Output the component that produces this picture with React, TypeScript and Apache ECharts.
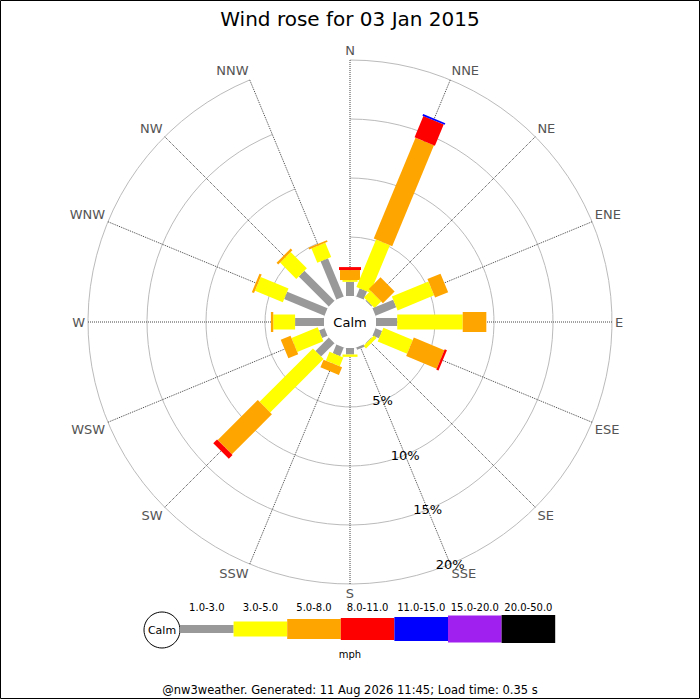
import * as echarts from "echarts";
import { useEffect, useRef } from "react";

// directions, clockwise from north
const directions = [
  "N", "NNE", "NE", "ENE", "E", "ESE", "SE", "SSE",
  "S", "SSW", "SW", "WSW", "W", "WNW", "NW", "NNW",
];

// percentage of time in each speed band (mph), per direction
const speed1to3 = [1.2, 0.75, 0.1, 1.9, 1.8, 0.6, 0.05, 0.2, 0.55, 0.8, 1.6, 0.5, 2.45, 3.7, 3.6, 3.5];
const speed3to5 = [0.15, 4.35, 0.8, 3.35, 5.55, 2.7, 0.3, 0, 0.2, 0.8, 6.4, 2.4, 1.85, 2.55, 1.95, 1.3];
const speed5to8 = [0.85, 9.25, 1.4, 1.2, 2.0, 2.8, 0, 0, 0, 0.7, 4.8, 0.9, 0.2, 0.2, 0.2, 0.15];
const speed8to11 = [0.25, 1.95, 0, 0, 0, 0.2, 0, 0, 0, 0, 0.45, 0, 0, 0, 0, 0];
const speed11to15 = [0, 0.15, 0, 0, 0, 0, 0, 0, 0, 0, 0, 0, 0, 0, 0, 0];

const bandLabels = ["1.0-3.0", "3.0-5.0", "5.0-8.0", "8.0-11.0", "11.0-15.0", "15.0-20.0", "20.0-50.0"];
const bandColors = ["#999999", "#ffff00", "#ffa500", "#ff0000", "#0000ff", "#a020f0", "#000000"];
const bandWidths = [8, 15, 20, 22, 24, 27, 28];

const radiusTicks = [0, 5, 10, 15, 20];

const CX = 350;
const CY = 322;
const R0 = 26;
const R1 = 262;
const FONT = "DejaVu Sans";

const bands = [speed1to3, speed3to5, speed5to8, speed8to11, speed11to15];

function buildSegments() {
  const out: number[][] = [];
  directions.forEach((_, i) => {
    let acc = 0;
    bands.forEach((band, b) => {
      const v = band[i];
      if (v > 0) out.push([i, acc, acc + v, b]);
      acc += v;
    });
  });
  return out;
}

function legend() {
  const x0 = 180;
  const w = 53.6;
  const cy = 629;
  const items: any[] = [
    {
      type: "circle",
      shape: { cx: 162, cy: 630, r: 18 },
      style: { fill: "#fff", stroke: "#000", lineWidth: 1 },
    },
    {
      type: "text",
      x: 162,
      y: 630,
      style: { text: "Calm", font: `11px ${FONT}`, fill: "#000", align: "center", verticalAlign: "middle" },
    },
  ];
  bandLabels.forEach((lab, i) => {
    const h = bandWidths[i];
    items.push({
      type: "rect",
      shape: { x: x0 + i * w, y: cy - h / 2, width: w, height: h },
      style: { fill: bandColors[i] },
    });
    items.push({
      type: "text",
      x: x0 + i * w + w / 2,
      y: 607,
      style: { text: lab, font: `10px ${FONT}`, fill: "#000", align: "center", verticalAlign: "middle" },
    });
  });
  items.push({
    type: "text",
    x: 350,
    y: 654,
    style: { text: "mph", font: `10px ${FONT}`, fill: "#000", align: "center", verticalAlign: "middle" },
  });
  return items;
}

export default function App() {
  const ref = useRef<HTMLDivElement>(null);
  useEffect(() => {
    document.body.style.margin = "0";
    if (!ref.current) return;
    const chart = echarts.init(ref.current, undefined, { renderer: "svg" });
    chart.setOption({
      animation: false,
      backgroundColor: "#fff",
      title: {
        text: "Wind rose for 03 Jan 2015",
        left: "center",
        top: 4,
        textStyle: { fontFamily: FONT, fontSize: 20, fontWeight: "normal", color: "#000" },
      },
      polar: [
        { center: [CX, CY], radius: [R0, R1] },
        { center: [CX, CY], radius: [R0, R1] },
      ],
      angleAxis: [
        {
          polarIndex: 0,
          type: "category",
          data: directions,
          boundaryGap: false,
          startAngle: 90,
          clockwise: true,
          axisLine: { show: false },
          axisTick: { show: false },
          axisLabel: { color: "#555", fontSize: 13, fontFamily: FONT, margin: 3 },
          splitLine: { show: true, lineStyle: { color: "#444", type: "dotted", width: 1 } },
          z: 1,
        },
        {
          polarIndex: 1,
          type: "value",
          min: 0,
          max: 360,
          startAngle: 90 - 157.5,
          show: false,
        },
      ],
      radiusAxis: [
        {
          polarIndex: 0,
          type: "value",
          min: radiusTicks[0],
          max: radiusTicks[radiusTicks.length - 1],
          interval: 5,
          axisLine: { show: false },
          axisTick: { show: false },
          axisLabel: { show: false },
          splitLine: { show: true, lineStyle: { color: "#bbb", width: 1 } },
          z: 1,
        },
        {
          polarIndex: 1,
          type: "value",
          min: radiusTicks[0],
          max: radiusTicks[radiusTicks.length - 1],
          interval: 5,
          axisLine: { show: false },
          axisTick: { show: false },
          splitLine: { show: false },
          axisLabel: {
            margin: 0,
            align: "center",
            verticalAlign: "middle",
            color: "#000",
            fontSize: 13,
            fontFamily: FONT,
            formatter: (v: number) => (v === 0 ? "" : `${v}%`),
          },
          z: 30,
        },
      ],
      graphic: [
        {
          type: "circle",
          z: 5,
          shape: { cx: CX, cy: CY, r: R0 + 0.5 },
          style: { fill: "#fff" },
        },
        {
          type: "text",
          z: 25,
          x: CX,
          y: CY,
          style: { text: "Calm", font: `13px ${FONT}`, fill: "#000", align: "center", verticalAlign: "middle" },
        },
        ...legend(),
        {
          type: "text",
          x: 350,
          y: 690,
          style: {
            text: "@nw3weather. Generated: 11 Aug 2026 11:45; Load time: 0.35 s",
            font: `11.5px ${FONT}`,
            fill: "#000",
            align: "center",
            verticalAlign: "middle",
          },
        },
        {
          type: "rect",
          z: 40,
          shape: { x: 0.5, y: 0.5, width: 699, height: 698 },
          style: { fill: "none", stroke: "#000", lineWidth: 1 },
        },
      ],
      series: [
        {
          type: "custom",
          coordinateSystem: "polar",
          polarIndex: 0,
          z: 10,
          data: buildSegments(),
          encode: { angle: 0, radius: [1, 2] },
          renderItem: (params: any, api: any) => {
            const dir = api.value(0);
            const band = api.value(3);
            const a = api.coord([api.value(1), dir]);
            const b = api.coord([api.value(2), dir]);
            const cs = params.coordSys;
            let ux = a[0] - cs.cx;
            let uy = a[1] - cs.cy;
            const len = Math.sqrt(ux * ux + uy * uy) || 1;
            ux /= len;
            uy /= len;
            const h = bandWidths[band] / 2;
            const nx = -uy * h;
            const ny = ux * h;
            return {
              type: "polygon",
              shape: {
                points: [
                  [a[0] + nx, a[1] + ny],
                  [b[0] + nx, b[1] + ny],
                  [b[0] - nx, b[1] - ny],
                  [a[0] - nx, a[1] - ny],
                ],
              },
              style: { fill: bandColors[band] },
            };
          },
        },
      ],
    });
    return () => chart.dispose();
  }, []);
  return <div ref={ref} style={{ width: 700, height: 700 }} />;
}
